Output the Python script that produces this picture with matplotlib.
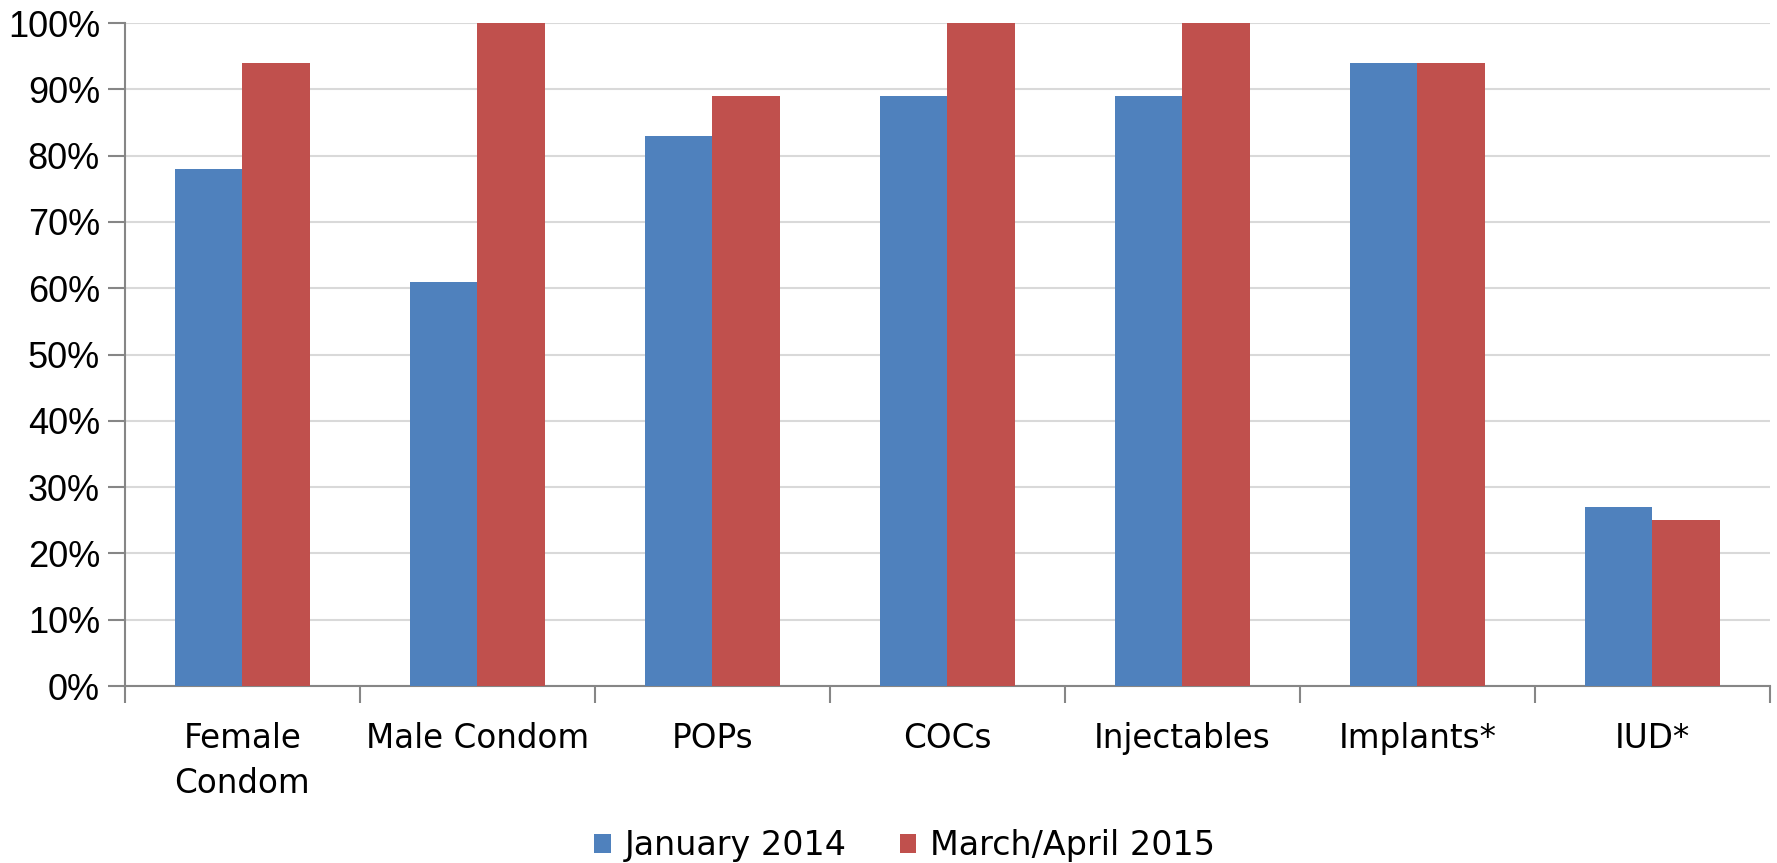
import matplotlib.pyplot as plt
import numpy as np

categories = ['Female\nCondom', 'Male Condom', 'POPs', 'COCs', 'Injectables', 'Implants*', 'IUD*']
jan_2014 = [78, 61, 83, 89, 89, 94, 27]
mar_apr_2015 = [94, 100, 89, 100, 100, 94, 25]
series_names = ['January 2014', 'March/April 2015']
yticks = [0, 10, 20, 30, 40, 50, 60, 70, 80, 90, 100]

blue = '#4F81BD'
red = '#C0504D'
axis_grey = '#868686'

fig = plt.figure(figsize=(17.77, 8.63), dpi=100)
ax = fig.add_axes([0.0703, 0.205, 0.9257, 0.7683])

x = np.arange(len(categories))
w = 1 / 3.5
ax.bar(x - w / 2, jan_2014, w, color=blue, label=series_names[0], zorder=3)
ax.bar(x + w / 2, mar_apr_2015, w, color=red, label=series_names[1], zorder=3)

ax.set_xlim(-0.5, len(categories) - 0.5)
ax.set_ylim(0, 100)

# y axis
ax.set_yticks(yticks)
ax.set_yticklabels([f'{t}%' for t in yticks], fontsize=26, family='Liberation Sans')
ax.yaxis.grid(True, color='#d9d9d9', linewidth=1.5, zorder=0)
ax.tick_params(axis='y', length=12, width=1.5, color=axis_grey, pad=6)

# x axis: labels at centers, tick marks at category boundaries
ax.set_xticks(x)
ax.set_xticklabels(categories, fontsize=23.5, family='DejaVu Sans', linespacing=1.45)
ax.set_xticks(np.arange(-0.5, len(categories)), minor=True)
ax.tick_params(axis='x', which='major', length=0, pad=26)
ax.tick_params(axis='x', which='minor', length=12, width=1.5, color=axis_grey)

for s in ['top', 'right']:
    ax.spines[s].set_visible(False)
for s in ['left', 'bottom']:
    ax.spines[s].set_color(axis_grey)
    ax.spines[s].set_linewidth(1.5)

fig.legend(loc='center', bbox_to_anchor=(0.509, 0.02), ncol=2, frameon=False,
           fontsize=24, handlelength=0.5, handleheight=0.5, handletextpad=0.4,
           columnspacing=1.6, borderpad=0)

fig.savefig('out.png', dpi=100)
